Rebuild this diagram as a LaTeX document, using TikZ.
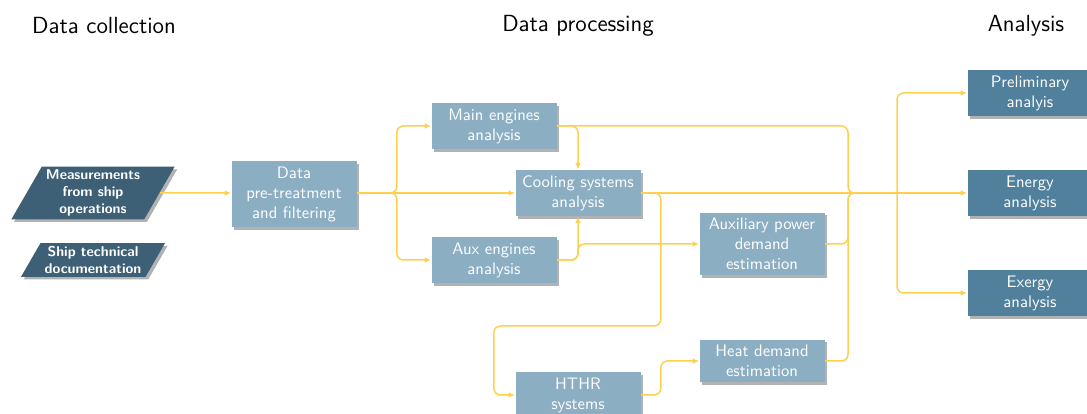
\documentclass[tikz,border=0pt]{standalone}
\usetikzlibrary{arrows.meta,calc,shapes.geometric,shadows}

\definecolor{flowyellow}{RGB}{253,208,80}
\definecolor{collectblue}{RGB}{62,96,118}
\definecolor{processblue}{RGB}{140,174,195}
\definecolor{analysisblue}{RGB}{80,128,155}

\begin{document}
\begin{tikzpicture}[x=0.6pt,y=-0.6pt,font=\sffamily,
  box/.style={rectangle,fill=processblue,text=white,align=center,minimum width=75pt,
    drop shadow={shadow xshift=1.6pt,shadow yshift=-1.6pt,fill=black!30,opacity=1}},
  result/.style={box,fill=analysisblue},
  source/.style={trapezium,trapezium left angle=60,trapezium right angle=120,
    inner xsep=2.5pt,inner ysep=2pt,
    fill=collectblue,text=white,align=center,font=\sffamily\fontsize{8.5}{10}\selectfont\bfseries,
    drop shadow={shadow xshift=1.6pt,shadow yshift=-1.6pt,fill=black!30,opacity=1}},
  heading/.style={font=\sffamily\fontsize{14}{16}\selectfont},
  line/.style={draw=flowyellow,line width=0.9pt,rounded corners=4pt},
  flow/.style={line,-{Latex[length=4pt,width=3.5pt]}}]
\useasboundingbox (0,0) rectangle (1087,414);

\node[heading] (H1) at (104,26) {Data collection};
\node[heading] (H2) at (578,26) {Data processing};
\node[heading] (H3) at (1026,26) {Analysis};

\node[source] (MS) at (93,193) {Measurements\\from ship\\operations};
\node[source] (ST) at (93,260) {Ship technical\\documentation};

\node[box] (DP) at (294,194) {Data\\pre-treatment\\and filtering};
\node[box] (ME) at (494,126) {Main engines\\analysis};
\node[box] (CS) at (578,193) {Cooling systems\\analysis};
\node[box] (AE) at (494,260) {Aux engines\\analysis};
\node[box] (AP) at (762,244) {Auxiliary power\\demand\\estimation};
\node[box] (HD) at (762,361) {Heat demand\\estimation};
\node[box] (HT) at (578,395) {HTHR\\systems};

\node[result] (PA) at (1030,93) {Preliminary\\analyis};
\node[result] (EN) at (1030,193) {Energy\\analysis};
\node[result] (EX) at (1030,293) {Exergy\\analysis};

\coordinate (J) at (848,193);
\coordinate (F) at (897,193);

\draw[flow] (MS) -- (MS -| DP.west);
\draw[flow] (DP.east |- CS) -- ++(40,0) |- (ME.west);
\draw[flow] (DP.east |- CS) -- (CS);
\draw[flow] (DP.east |- CS) -- ++(40,0) |- (AE.west);

\draw[flow] (ME.east) -| (CS.north);
\draw[flow] (AE.east) -| (CS.south);
\draw[flow] (AE.east) -- ++(21,0) |- (AP.west);
\draw[flow] (CS.east) -- ++(20,0) -- ++(0,133) -- ++(-167,0) |- (HT.west);
\draw[flow] (HT.east) -- ++(20,0) |- (HD.west);

\draw[line] (ME.east) -| (J) -- (F);
\draw[line] (AP.east) -| (J) -- (F);
\draw[line] (HD.east) -| (J) -- (F);

\draw[flow] (CS) -- (EN);
\draw[flow] (F) |- (PA.west);
\draw[flow] (F) |- (EX.west);

\end{tikzpicture}
\end{document}
